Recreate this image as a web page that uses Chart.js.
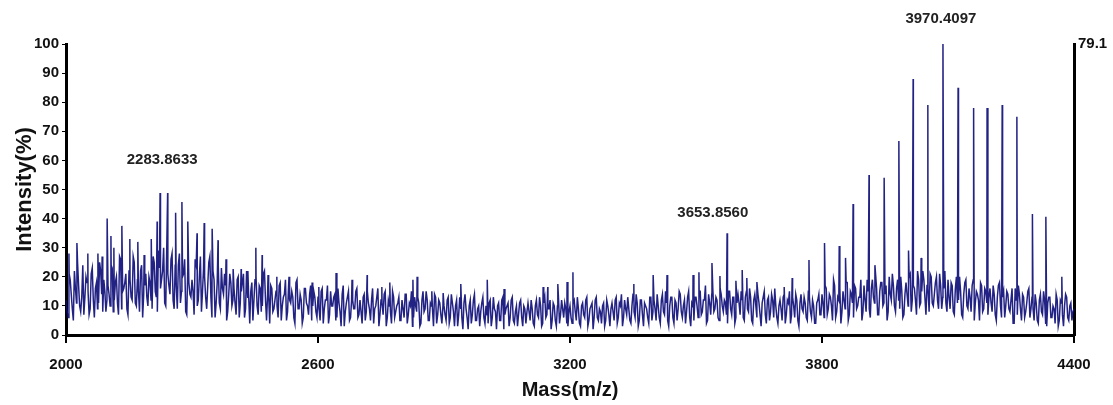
<!DOCTYPE html>
<html>
<head>
<meta charset="utf-8">
<script src="https://cdn.jsdelivr.net/npm/chart.js@4.4.1/dist/chart.umd.min.js"></script>
<style>
  html, body { margin: 0; padding: 0; background: #ffffff; }
  #wrap { width: 1113px; height: 405px; position: relative; }
</style>
</head>
<body>
<div id="wrap"><canvas id="c" width="1113" height="405"></canvas></div>
<script>
// ---- data ----
const massMin = 2000;
const massMax = 4400;
const massTicks = [2000, 2600, 3200, 3800, 4400];
const noiseStep = 5; // Da between baseline readings

// baseline noise intensity (%), readings at 2000, 2005, ... 4400
const noise = [
  12,6,19,9,22,11,17,8,24,13,18,7,21,12,16,9,25,14,19,8,
  17,10,23,12,20,7,26,15,18,9,22,13,27,11,19,8,24,14,21,10,
  18,9,25,13,29,16,22,11,31,17,26,12,24,9,28,15,21,8,23,14,
  19,7,24,12,27,15,20,9,25,13,22,6,18,11,23,14,17,8,21,10,
  16,7,20,11,18,6,22,13,15,5,19,10,17,8,21,12,14,4,16,9,
  15,6,18,10,14,5,17,11,13,4,19,9,12,6,16,10,14,5,15,8,
  13,5,16,9,12,4,15,10,14,6,11,3,17,8,13,5,12,9,15,6,
  12,4,14,8,11,5,16,9,13,3,12,7,15,6,10,4,13,8,11,5,
  12,6,14,7,10,3,13,8,11,4,15,9,12,5,10,3,13,7,11,4,
  10,5,13,6,11,3,12,7,9,2,14,6,10,4,12,5,9,3,11,6,
  10,4,12,6,9,2,11,5,13,7,10,3,12,5,8,3,11,6,10,4,
  11,5,9,3,12,6,10,4,13,7,9,2,11,5,10,4,12,6,9,3,
  10,4,12,5,9,3,11,6,13,5,10,2,12,6,9,4,11,5,10,3,
  11,5,13,6,10,3,12,7,9,4,14,6,11,5,12,3,10,6,13,5,
  12,5,10,4,14,7,11,3,13,6,12,5,15,8,10,4,13,6,11,5,
  13,6,15,8,12,4,14,7,16,9,12,5,14,8,11,4,15,7,13,6,
  14,7,12,5,15,8,13,4,14,6,11,3,13,7,12,5,14,6,10,4,
  12,5,14,7,11,4,13,6,12,3,14,8,11,5,13,6,10,4,12,7,
  14,6,16,9,13,5,17,8,12,4,15,9,18,7,14,6,16,10,13,5,
  17,8,15,6,19,11,16,7,18,10,14,5,20,12,17,8,19,9,15,7,
  18,10,21,12,16,7,19,11,22,13,17,8,20,10,18,12,21,9,16,11,
  19,9,17,7,20,12,15,6,18,10,16,8,19,11,14,5,17,9,15,7,
  16,8,14,5,17,10,13,6,15,9,12,4,16,7,14,5,13,8,15,6,
  13,5,11,4,14,7,12,3,13,6,10,4,12,5,11,3,14,6,10,5,
  9
];

// baseline noise readings in between, at 2002.5, 2007.5, ... 4397.5
const noiseMid = [
  8,21,14,5,16,25,10,13,7,20,15,9,23,6,18,11,22,8,15,12,
  14,24,8,18,11,27,9,16,21,7,19,12,25,10,15,22,6,17,13,20,
  12,27,15,8,23,19,30,10,21,14,28,9,17,24,11,20,26,7,18,13,
  15,26,10,20,8,23,13,17,27,6,19,11,24,9,16,21,5,14,18,12,
  11,19,6,15,21,9,13,4,18,12,20,7,16,10,22,5,14,17,8,12,
  10,17,5,13,19,8,12,15,6,18,9,14,4,16,11,7,17,10,13,6,
  9,15,4,12,17,7,10,13,5,16,8,14,3,11,15,6,12,9,16,7,
  8,13,5,15,9,12,4,10,16,7,11,14,3,12,8,15,6,10,13,5,
  9,14,4,11,15,6,10,13,3,12,8,15,5,11,9,14,4,12,7,10,
  7,12,4,14,8,10,3,13,6,11,9,2,12,7,14,5,10,8,13,4,
  7,11,3,13,8,10,5,12,2,9,11,6,13,4,10,7,12,3,9,8,
  8,12,4,10,7,13,3,11,6,9,12,5,10,3,13,7,9,11,4,8,
  6,11,8,13,4,10,7,12,3,9,11,6,13,5,8,10,3,12,7,9,
  8,12,4,11,14,6,9,13,5,10,8,14,3,12,7,11,9,4,13,8,
  9,14,6,12,8,15,5,10,13,4,11,9,14,6,12,8,15,3,10,13,
  10,15,7,12,17,5,11,14,8,13,6,16,10,12,7,15,9,13,4,11,
  11,15,6,13,9,16,5,12,10,14,7,11,15,4,13,8,12,16,6,10,
  9,13,4,12,15,7,10,14,5,11,9,13,6,15,8,12,4,11,14,7,
  11,17,7,14,10,19,6,13,16,8,12,18,5,15,11,17,9,13,19,8,
  12,19,9,16,13,21,7,15,18,11,17,8,14,21,10,16,12,20,6,14,
  14,20,8,17,12,22,10,15,19,7,16,21,11,14,20,9,17,13,22,8,
  13,18,8,16,11,20,7,14,19,9,13,17,5,15,12,18,8,16,11,13,
  11,17,7,13,18,6,15,10,14,8,16,4,12,17,9,14,6,11,16,9,
  9,14,5,12,8,15,4,11,13,6,9,14,3,12,7,10,13,5,11,8
];

// spike peaks (m/z) and their intensities (%)
const peakMass = [
  2007,2026,2052,2076,2086,2098,2107,2114,2133,2152,2171,2186,2203,2217,2224,2242,2261,2276,2290,2312,
  2329,2348,2362,2381,2398,2417,2433,2452,2467,2481,2502,2531,2586,2602,2643,2681,2717,2752,2771,2826,
  2836,2871,2898,2940,3003,3043,3136,3147,3171,3193,3207,3352,3398,3431,3493,3507,3538,3557,3574,3595,
  3610,3621,3645,3710,3729,3769,3806,3841,3856,3874,3912,3926,3948,3983,4006,4017,4036,4052,4088,4124,
  4161,4193,4229,4264,4301,4333,4371
];
const peakInt = [
  28,31.6,28,28,27,40,34,30,37.5,33,32,27.5,33,39,48.8,48.8,42,45.7,39,35,
  38.5,36.5,32.6,26,22.7,22.7,22,30,27.5,20.6,20,20,18,16.5,21.3,19,20.6,16.5,18,19,
  20,15,14.4,17.5,19,15.8,16.5,16.5,17.5,18.2,21.6,17.5,20.6,20.6,20.6,21.6,24.7,20.3,35,18.6,
  22.3,19.6,18.2,16.5,19.6,25.8,31.6,30.6,26.5,45,55,24,54,66.7,29,88,26.5,79,100,85,
  78,78,79,75,41.6,40.6,20
];

// labelled peaks
const labelText = ['2283.8633', '3653.8560', '3970.4097'];
const labelMass = [2229, 3540, 4083];
const labelLevel = [60.1, 41.9, 108.6];

const rightAxisMax = 79.1;

// ---- build series ----
const points = noise.map((v, i) => ({ x: massMin + i * noiseStep, y: v }));
noiseMid.forEach((v, i) => points.push({ x: massMin + noiseStep / 2 + i * noiseStep, y: v }));
peakMass.forEach((m, i) => points.push({ x: m, y: peakInt[i] }));
points.sort((a, b) => a.x - b.x);

const FONT = '"Liberation Sans", Arial, sans-serif';

const labelPlugin = {
  id: 'peakLabels',
  afterDraw(chart) {
    const { ctx, scales } = chart;
    ctx.save();
    ctx.font = 'bold 15px ' + FONT;
    ctx.fillStyle = '#222222';
    ctx.textAlign = 'center';
    ctx.textBaseline = 'middle';
    labelText.forEach((t, i) => {
      ctx.fillText(t, scales.x.getPixelForValue(labelMass[i]), scales.y.getPixelForValue(labelLevel[i]));
    });
    ctx.restore();
  }
};

new Chart(document.getElementById('c'), {
  type: 'line',
  data: {
    datasets: [{
      data: points,
      borderColor: 'rgba(10,10,120,0.9)',
      borderWidth: 1.5,
      pointRadius: 0,
      tension: 0,
      fill: false,
      clip: false
    }]
  },
  options: {
    responsive: false,
    animation: false,
    devicePixelRatio: 1,
    parsing: false,
    layout: { padding: { top: 44, left: 0, right: 0, bottom: 0 } },
    plugins: { legend: { display: false }, tooltip: { enabled: false } },
    scales: {
      x: {
        type: 'linear',
        min: massMin,
        max: massMax,
        afterBuildTicks(s) { s.ticks = massTicks.map(v => ({ value: v })); },
        afterFit(s) { s.height = 70; },
        ticks: {
          font: { family: FONT, size: 15, weight: 'bold' },
          color: '#111',
          padding: 13,
          maxRotation: 0,
          autoSkip: false,
          callback: v => String(v)
        },
        grid: { display: true, drawOnChartArea: false, drawTicks: true, tickLength: 8, color: '#000', lineWidth: 2 },
        border: { display: true, color: '#000', width: 3 },
        title: {
          display: true, text: 'Mass(m/z)', color: '#111',
          font: { family: FONT, size: 20, weight: 'bold' },
          padding: { top: 0, bottom: 3 }
        }
      },
      y: {
        min: 0,
        max: 100,
        ticks: {
          stepSize: 10,
          font: { family: FONT, size: 15, weight: 'bold' },
          color: '#111',
          padding: 3,
          callback: v => String(v)
        },
        afterFit(s) { s.width = 66; },
        grid: { display: true, drawOnChartArea: false, drawTicks: true, tickLength: 4, color: '#000', lineWidth: 1 },
        border: { display: true, color: '#000', width: 3 },
        title: {
          display: true, text: 'Intensity(%)', color: '#111',
          font: { family: FONT, size: 22, weight: 'bold' },
          padding: { top: 12, bottom: 0 }
        }
      },
      y2: {
        position: 'right',
        min: 0,
        max: rightAxisMax,
        afterBuildTicks(s) { s.ticks = [{ value: rightAxisMax }]; },
        afterFit(s) { s.width = 39; },
        ticks: {
          font: { family: FONT, size: 15, weight: 'bold' },
          color: '#111',
          padding: 4,
          callback: v => String(v)
        },
        grid: { display: false, drawTicks: false },
        border: { display: true, color: '#000', width: 3 }
      }
    }
  },
  plugins: [labelPlugin]
});
</script>
</body>
</html>
